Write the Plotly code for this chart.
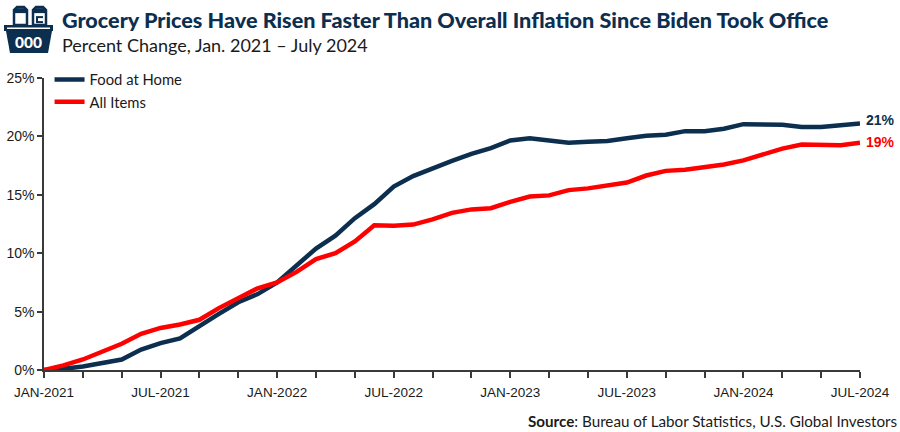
import plotly.graph_objects as go

months = [f"{m}-{y}" for y in range(2021, 2025) for m in
          ["JAN","FEB","MAR","APR","MAY","JUN","JUL","AUG","SEP","OCT","NOV","DEC"]][:43]
food_at_home = [0,0.1,0.3,0.6,0.9,1.75,2.3,2.7,3.8,4.8,5.8,6.5,7.5,8.9,10.4,11.5,13.0,14.2,15.7,16.6,17.3,17.9,18.5,19.0,19.65,19.85,19.65,19.45,19.55,19.6,19.85,20.05,20.15,20.45,20.45,20.65,21.05,21.0,21.0,20.8,20.8,20.95,21.1]
all_items = [0,0.4,0.9,1.6,2.25,3.1,3.6,3.9,4.3,5.3,6.2,7.0,7.5,8.4,9.5,10.0,11.0,12.4,12.35,12.45,12.9,13.45,13.75,13.85,14.4,14.85,14.95,15.4,15.55,15.8,16.05,16.65,17.05,17.15,17.35,17.6,17.95,18.5,18.95,19.3,19.3,19.25,19.45]
y_ticks = [0,5,10,15,20,25]
y_labels = ["0%","5%","10%","15%","20%","25%"]
title = "Grocery Prices Have Risen Faster Than Overall Inflation Since Biden Took Office"
subtitle = "Percent Change, Jan. 2021 – July 2024"
source = "<b>Source</b>: Bureau of Labor Statistics, U.S. Global Investors"

NAVY = "#0c2f4f"; RED = "#ff0000"; INK = "#1a1a1a"; AXIS = "#3a3a3a"
L, W, B, H = 44, 816, 370.5, 292.5
px = lambda x: (x-L)/W
py = lambda y: (B-y)/H

fig = go.Figure()
fig.add_trace(go.Scatter(x=months, y=food_at_home, mode="lines", name="Food at Home",
                         line=dict(color=NAVY, width=4.5), cliponaxis=False))
fig.add_trace(go.Scatter(x=months, y=all_items, mode="lines", name="All Items",
                         line=dict(color=RED, width=4.5), cliponaxis=False))
fig.update_layout(
    width=900, height=432, margin=dict(l=44, r=40, t=78, b=61.5, autoexpand=False),
    plot_bgcolor="white", paper_bgcolor="white",
    font=dict(family="Liberation Sans, Arial, sans-serif", size=14, color=INK),
    showlegend=True,
    legend=dict(x=0.0068, y=1.05, xanchor="left", yanchor="top", bgcolor="rgba(0,0,0,0)",
                font=dict(family="Lato, sans-serif", size=14.8)),
    xaxis=dict(type="category", categoryorder="array", categoryarray=months,
               range=[0, 42], tickmode="array", tickvals=months[::2],
               ticktext=[months[i] if i % 6 == 0 else "" for i in range(0, 43, 2)],
               ticks="outside", ticklen=6, tickwidth=1.5, tickcolor=AXIS, ticklabelstandoff=3,
               showline=True, linecolor=AXIS, linewidth=1.5, showgrid=False, zeroline=False,
               tickangle=0, tickfont=dict(size=13.5)),
    yaxis=dict(range=[0, 25], tickmode="array", tickvals=y_ticks, ticktext=y_labels,
               ticks="outside", ticklen=5, tickwidth=1.5, tickcolor=AXIS, ticklabelstandoff=0,
               showline=True, linecolor=AXIS, linewidth=1.5, showgrid=False, zeroline=False,
               tickfont=dict(size=14)),
)
fig.add_annotation(x=months[-1], y=food_at_home[-1], text="<b>21%</b>", xanchor="left", showarrow=False,
                   xshift=4, yshift=4, font=dict(color=NAVY, size=14))
fig.add_annotation(x=months[-1], y=all_items[-1], text="<b>19%</b>", xanchor="left", showarrow=False,
                   xshift=4, yshift=1, font=dict(color=RED, size=14))
def txt(x, y, s, size, color, fam, anchor="left", weight=None):
    fig.add_annotation(xref="paper", yref="paper", x=px(x), y=py(y), text=s, showarrow=False,
                       xanchor=anchor, yanchor="middle",
                       font=dict(size=size, color=color, family=fam, weight=weight))
txt(60, 20, title, 21.6, NAVY, "Lato, sans-serif", weight=900)
txt(60, 45, subtitle, 18, INK, "Lato, sans-serif")
txt(899, 422, source, 15.2, INK, "Lato, sans-serif", "right")
# basket icon
def path(points, **kw):
    d = "M " + " L ".join(f"{px(x)},{py(y)}" for x, y in points) + " Z"
    fig.add_shape(type="path", xref="paper", yref="paper", path=d, layer="above", **kw)
path([(6,31),(52,31),(48,53),(10,53)], fillcolor=NAVY, line_width=0)
path([(4,25),(53,25),(53,31),(4,31)], fillcolor=NAVY, line_width=0)
path([(7,27.5),(50,27.5),(50,28.8),(7,28.8)], fillcolor="white", line_width=0)
path([(14,25),(14,10),(17,7),(24,7),(27,10),(27,25)], fillcolor="white", line=dict(color=NAVY, width=2.5))
path([(33,25),(33,10),(36,7),(43,7),(46,10),(46,25)], fillcolor="white", line=dict(color=NAVY, width=2.5))
path([(14,8),(27,8),(27,13),(14,13)], fillcolor=NAVY, line_width=0)
path([(33,8),(46,8),(46,13),(33,13)], fillcolor=NAVY, line_width=0)
path([(36,16),(43,16),(43,23),(36,23)], fillcolor=NAVY, line_width=0)
path([(38,18),(43,18),(43,21),(38,21)], fillcolor="white", line_width=0)
txt(28.5, 41.5, "000", 15.5, "white", "Lato, sans-serif", "center", weight=900)
fig.write_html("out.html", post_script="document.body.style.margin='0';",
               config={"displayModeBar": False})
